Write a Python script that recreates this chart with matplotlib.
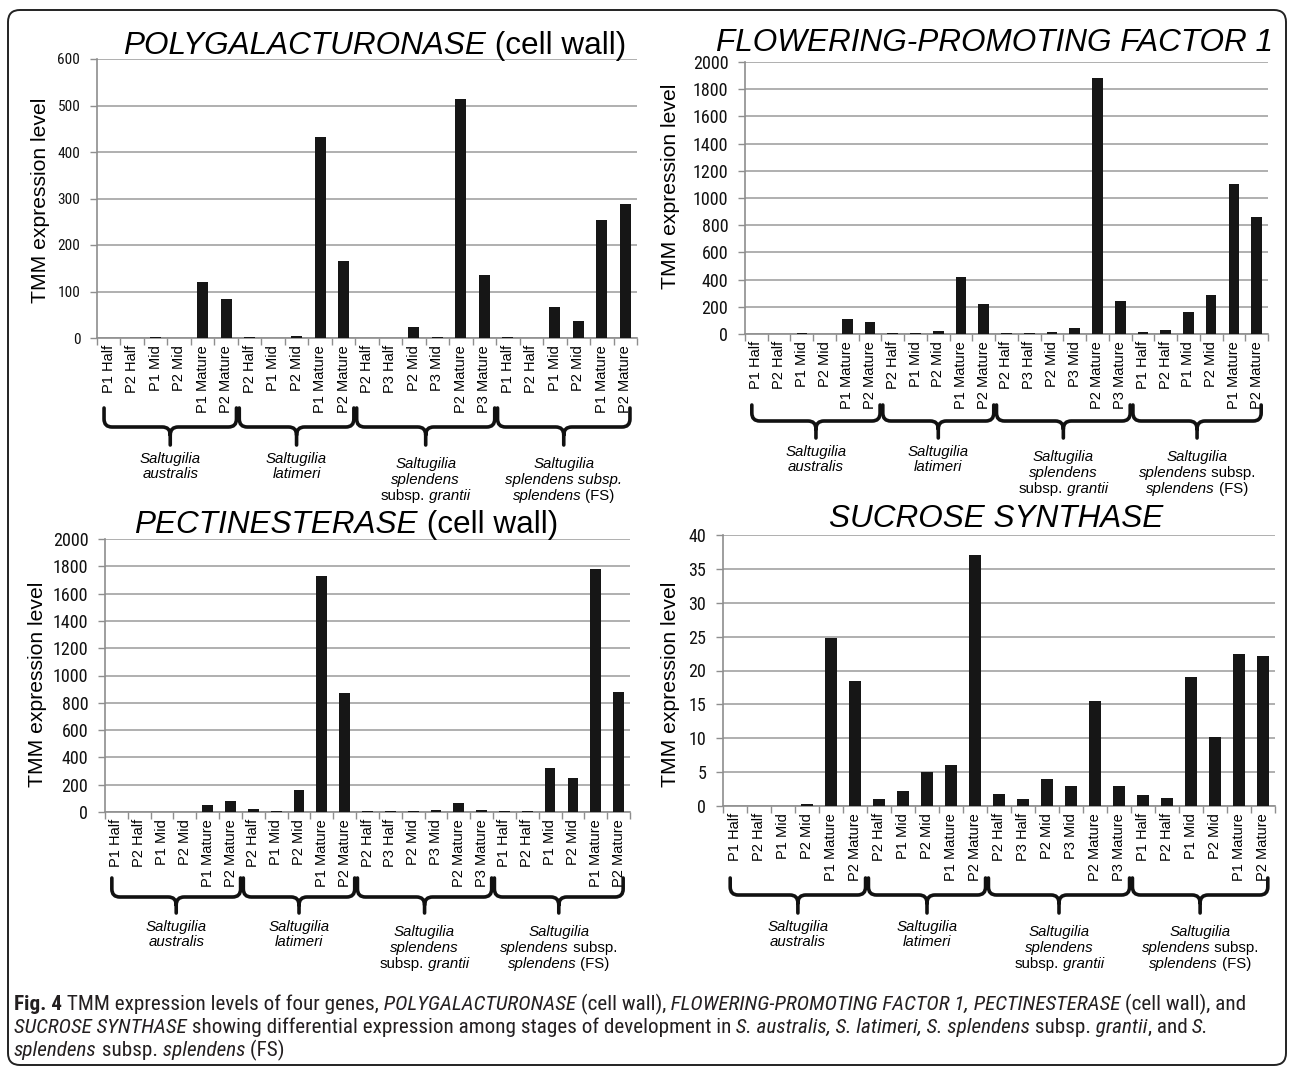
import matplotlib
matplotlib.use("Agg")
import numpy as np
import matplotlib.pyplot as plt
from matplotlib import font_manager
from matplotlib.font_manager import FontProperties
from matplotlib.patches import FancyBboxPatch, PathPatch
from matplotlib.path import Path
from matplotlib.transforms import IdentityTransform

# ---------------- data ----------------
categories = ["P1 Half", "P2 Half", "P1 Mid", "P2 Mid", "P1 Mature", "P2 Mature",
              "P2 Half", "P1 Mid", "P2 Mid", "P1 Mature", "P2 Mature",
              "P2 Half", "P3 Half", "P2 Mid", "P3 Mid", "P2 Mature", "P3 Mature",
              "P1 Half", "P2 Half", "P1 Mid", "P2 Mid", "P1 Mature", "P2 Mature"]
group_sizes = [6, 5, 6, 6]

polygalacturonase = [0, 0, 2, 0, 121, 83,
                     2, 0, 4, 433, 165,
                     0, 0, 23, 2, 513, 135,
                     2, 0, 66, 37, 254, 289]
flowering_pf1 = [0, 0, 8, 0, 111, 89,
                 8, 8, 20, 419, 222,
                 8, 8, 17, 44, 1881, 244,
                 17, 27, 163, 284, 1100, 858]
pectinesterase = [0, 0, 0, 0, 52, 81,
                  22, 10, 162, 1726, 872,
                  10, 10, 10, 12, 64, 12,
                  10, 10, 322, 246, 1778, 882]
sucrose_synthase = [0, 0, 0, 0.25, 24.8, 18.4,
                    1.1, 2.2, 5.0, 6.1, 37.0,
                    1.7, 1.1, 4.0, 2.9, 15.5, 2.9,
                    1.6, 1.2, 19.1, 10.2, 22.4, 22.2]

y_label = "TMM expression level"

# ---------------- fonts ----------------
W, H = 1290, 1067


def has_font(name):
    try:
        font_manager.findfont(FontProperties(family=name), fallback_to_default=False)
        return True
    except Exception:
        return False


SANS = "Liberation Sans" if has_font("Liberation Sans") else "DejaVu Sans"


def condensed_family():
    prefs = ["Open Sans Condensed", "Roboto Condensed", "Liberation Sans Narrow",
             "DejaVu Sans Condensed", "Noto Sans Condensed", "Open Sans", "Roboto",
             "DejaVu Sans", "Noto Sans"]
    cands = {}
    for f in font_manager.fontManager.ttflist:
        fn = f.fname.lower()
        st = str(f.stretch).lower()
        cond = ("condensed" in fn or "narrow" in fn or
                st in ("condensed", "semi-condensed", "extra-condensed"))
        if "extra" in fn or "ultra" in fn or "semicondensed" in fn.replace("-", ""):
            continue
        if cond:
            key = f.name
            cands.setdefault(key, {})
            wt = f.weight if isinstance(f.weight, int) else (700 if "bold" in str(f.weight) else 400)
            style = f.style
            kind = ("b" if wt >= 600 else "r") + ("i" if style != "normal" else "")
            if wt in (400, 700) or kind not in cands[key]:
                cands[key][kind] = f.fname
    for p in prefs:
        for name, d in cands.items():
            if name.startswith(p) and "r" in d:
                return d
    for name, d in cands.items():
        if "r" in d and "sans" in name.lower():
            return d
    return None


COND = condensed_family()


def cap_props(style, weight, size):
    if COND is not None:
        kind = ("b" if weight == "bold" else "r") + ("i" if style == "italic" else "")
        fn = COND.get(kind) or COND.get(kind[0]) or COND["r"]
        return FontProperties(fname=fn, size=size)
    return FontProperties(family=SANS, style=style, weight=weight, size=size)


fig = plt.figure(figsize=(W / 100, H / 100), dpi=100)
fig.patch.set_facecolor("white")
renderer = fig.canvas.get_renderer()
ID = IdentityTransform()


def props_for(family, style, weight, size):
    if family == "CAPTION":
        return cap_props(style, weight, size)
    return FontProperties(family=family, style=style, weight=weight, size=size)


def raw_w(txt, fp):
    t = fig.text(0, 0, txt, fontproperties=fp, transform=ID)
    w = t.get_window_extent(renderer).width
    t.remove()
    return w


def measure(txt, fp):
    # advance width using marker characters on both sides
    return raw_w("|" + txt + "|", fp) - raw_w("||", fp)


def draw_rich(x, ybase, pieces, size, family, ha="center", color="black"):
    """pieces: list of (text, style, weight, space_before)"""
    items = []
    for i, (txt, st, wt, sp) in enumerate(pieces):
        fp = props_for(family, st, wt, size)
        s = (" " + txt) if (i > 0 and sp) else txt
        items.append((s, fp, measure(s, fp)))
    total = sum(w for _, _, w in items)
    cur = x - total / 2 if ha == "center" else x
    for s, fp, w in items:
        fig.text(cur, H - ybase, s, fontproperties=fp, color=color,
                 transform=ID, ha="left", va="baseline")
        cur += w
    return total


def I(t, sp=True):
    return (t, "italic", "normal", sp)


def N(t, sp=True):
    return (t, "normal", "normal", sp)


def B(t, sp=True):
    return (t, "normal", "bold", sp)


# ---------------- panels ----------------
panels = [
    dict(vals=polygalacturonase, box=(97, 59, 637, 338), ymax=600, step=100,
         title=[I("POLYGALACTURONASE"), N("(cell wall)")], tx=375, tbase=54,
         ylx=41, yly=200, tsize=11.0, brace=(408, 427, 445),
         fs_line=[I("splendens subsp.")]),
    dict(vals=flowering_pf1, box=(745, 62, 1268, 334), ymax=2000, step=200,
         title=[I("FLOWERING-PROMOTING FACTOR 1")], tx=994, tbase=51,
         ylx=671, yly=186, tsize=13.0, brace=(405, 421, 438),
         fs_line=[I("splendens"), N("subsp.")]),
    dict(vals=pectinesterase, box=(105, 539, 630, 812), ymax=2000, step=200,
         title=[I("PECTINESTERASE"), N("(cell wall)")], tx=346, tbase=533,
         ylx=38, yly=684, tsize=13.0, brace=(878, 897, 913),
         fs_line=[I("splendens"), N("subsp.")]),
    dict(vals=sucrose_synthase, box=(723, 535, 1275, 806), ymax=40, step=5,
         title=[I("SUCROSE SYNTHASE")], tx=996, tbase=527,
         ylx=671, yly=684, tsize=13.0, brace=(878, 895, 913),
         fs_line=[I("splendens"), N("subsp.")]),
]

GRID = "#a9a9a9"
AXC = "#8e8e8e"
BAR = "#161616"
n = len(categories)

for p in panels:
    l, t, r, b = p["box"]
    ax = fig.add_axes([l / W, 1 - b / H, (r - l) / W, (b - t) / H])
    x = np.arange(n)
    ax.bar(x, p["vals"], width=0.47, color=BAR, zorder=3)
    ax.set_xlim(-0.5, n - 0.5)
    ax.set_ylim(0, p["ymax"])
    ax.set_yticks(np.arange(0, p["ymax"] + p["step"] / 2, p["step"]))
    ax.yaxis.grid(True, color=GRID, lw=1.3)
    ax.set_axisbelow(True)
    for s in ("top", "right"):
        ax.spines[s].set_visible(False)
    for s in ("left", "bottom"):
        ax.spines[s].set_color(AXC)
        ax.spines[s].set_linewidth(1.2)
    ax.set_xticks(x)
    ax.set_xticklabels(categories, rotation=90, fontsize=10.5, family=SANS)
    ax.set_xticks(np.arange(-0.5, n, 1.0), minor=True)
    ax.tick_params(axis="x", which="major", length=0, pad=5)
    ax.tick_params(axis="x", which="minor", length=5, color=AXC, width=1.0)
    ax.tick_params(axis="y", length=5, color=AXC, width=1.0, pad=7)
    for lab in ax.get_yticklabels():
        if COND is not None:
            lab.set_fontproperties(FontProperties(fname=COND["r"], size=p["tsize"]))
        else:
            lab.set_fontproperties(FontProperties(family=SANS, size=p["tsize"] * 0.88))
        lab.set_color("#111111")

    # title & y label
    draw_rich(p["tx"], p["tbase"], p["title"], 22.7, SANS)
    fig.text(p["ylx"], H - p["yly"], y_label, rotation=90, fontsize=15.2,
             family=SANS, ha="center", va="center", transform=ID)

    # braces + species labels
    ytop, ymid, ytip = p["brace"]
    bounds = np.cumsum([0] + group_sizes) - 0.5
    group_lines = [
        [[I("Saltugilia")], [I("australis")]],
        [[I("Saltugilia")], [I("latimeri")]],
        [[I("Saltugilia")], [I("splendens")], [N("subsp."), I("grantii")]],
        [[I("Saltugilia")], p["fs_line"], [I("splendens"), N("(FS)")]],
    ]
    for gi in range(4):
        lo_in = 0.3 if gi == 0 else 0.06
        hi_in = 0.3 if gi == 3 else 0.06
        x0 = ax.transData.transform((bounds[gi] + lo_in, 0))[0]
        x1 = ax.transData.transform((bounds[gi + 1] - hi_in, 0))[0]
        xc = (x0 + x1) / 2
        rv, rh = 8, 8
        Y = lambda yy: H - yy
        verts = [
            (x0, Y(ytop)), (x0, Y(ymid - rv)), (x0, Y(ymid)), (x0 + rh, Y(ymid)),
            (xc - rh, Y(ymid)), (xc, Y(ymid)), (xc, Y(ymid + rv)), (xc, Y(ytip)),
            (x1, Y(ytop)), (x1, Y(ymid - rv)), (x1, Y(ymid)), (x1 - rh, Y(ymid)),
            (xc + rh, Y(ymid)), (xc, Y(ymid)), (xc, Y(ymid + rv)),
        ]
        codes = [Path.MOVETO, Path.LINETO, Path.CURVE3, Path.CURVE3,
                 Path.LINETO, Path.CURVE3, Path.CURVE3, Path.LINETO,
                 Path.MOVETO, Path.LINETO, Path.CURVE3, Path.CURVE3,
                 Path.LINETO, Path.CURVE3, Path.CURVE3]
        patch = PathPatch(Path(verts, codes), transform=ID, fill=False,
                          lw=2.6, edgecolor="#111111", capstyle="round",
                          joinstyle="round")
        fig.add_artist(patch)
        lines = group_lines[gi]
        offs = [13, 28] if len(lines) == 2 else [18, 34, 50]
        for ln, off in zip(lines, offs):
            draw_rich(xc, ytip + off + 5, ln, 10.8, SANS)

# ---------------- caption ----------------
cap_lines = [
    [B("Fig. 4"), N("TMM expression levels of four genes,"), I("POLYGALACTURONASE"),
     N("(cell wall),"), I("FLOWERING-PROMOTING FACTOR 1,"), I("PECTINESTERASE"),
     N("(cell wall), and")],
    [I("SUCROSE SYNTHASE"), N("showing differential expression among stages of development in"),
     I("S. australis, S. latimeri, S. splendens"), N("subsp."), I("grantii"), N(",", False),
     N("and"), I("S.")],
    [I("splendens"), N("subsp."), I("splendens"), N("(FS)")],
]
# fit first caption line to its width in the reference
test_size = 12.0
wsum = 0.0
for i, pc in enumerate(cap_lines[0]):
    s = (" " + pc[0]) if i > 0 else pc[0]
    wsum += measure(s, props_for("CAPTION", pc[1], pc[2], test_size))
cap_size = min(test_size * 1226.0 / wsum, 15.2)
for ln, yb in zip(cap_lines, [1010, 1033, 1056]):
    draw_rich(14, yb, ln, cap_size, "CAPTION", ha="left", color="#231f20")

# ---------------- frame ----------------
frame = FancyBboxPatch((8, 2), 1278, 1055, boxstyle="round,pad=0,rounding_size=12",
                       transform=ID, fill=False, edgecolor="#222222", lw=1.4)
fig.add_artist(frame)

fig.savefig("out.png", dpi=100, facecolor="white")
